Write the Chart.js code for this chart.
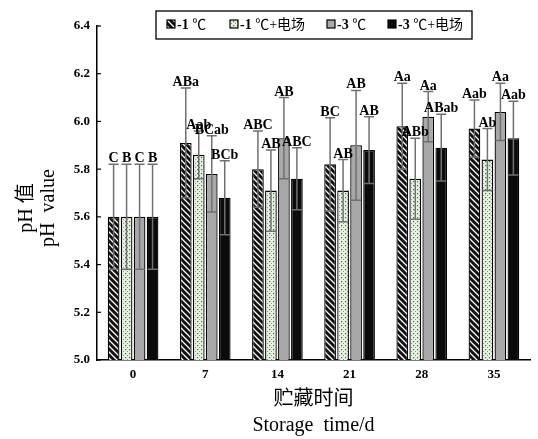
<!DOCTYPE html>
<html><head><meta charset="utf-8">
<script src="https://cdn.jsdelivr.net/npm/chart.js@4/dist/chart.umd.min.js"></script>
<style>html,body{margin:0;padding:0;background:#fff}</style>
</head><body>
<canvas id="c" width="538" height="439" style="display:block;width:538px;height:439px"></canvas>
<script>
// ---- data ----
const days = ['0', '7', '14', '21', '28', '35'];
const seriesNames = ['-1 ℃', '-1 ℃+电场', '-3 ℃', '-3 ℃+电场'];
const minus1 = [5.60, 5.91, 5.80, 5.82, 5.98, 5.97];
const minus1Err = [0.22, 0.23, 0.16, 0.195, 0.18, 0.12];
const minus1E = [5.60, 5.86, 5.71, 5.71, 5.76, 5.84];
const minus1EErr = [0.22, 0.10, 0.17, 0.13, 0.17, 0.13];
const minus3 = [5.60, 5.78, 5.93, 5.90, 6.02, 6.04];
const minus3Err = [0.22, 0.16, 0.17, 0.23, 0.105, 0.12];
const minus3E = [5.60, 5.68, 5.76, 5.88, 5.89, 5.93];
const minus3EErr = [0.22, 0.155, 0.13, 0.14, 0.14, 0.155];
const letters1 = ['C', 'ABa', 'ABC', 'BC', 'Aa', 'Aab'];
const letters2 = ['B', 'Aab', 'AB', 'AB', 'ABb', 'Ab'];
const letters3 = ['C', 'BCab', 'AB', 'AB', 'Aa', 'Aa'];
const letters4 = ['B', 'BCb', 'ABC', 'AB', 'ABab', 'Aab'];
const yTicks = [5.0, 5.2, 5.4, 5.6, 5.8, 6.0, 6.2, 6.4];
const yTitle = ['pH 值', 'pH  value'];
const xTitle = ['贮藏时间', 'Storage  time/d'];

const errs = [minus1Err, minus1EErr, minus3Err, minus3EErr];
const letters = [letters1, letters2, letters3, letters4];

const SERIF = '"Liberation Serif", "Times New Roman", "Noto Sans CJK SC", serif';

// ---- patterns ----
function hatchPattern() {
  const c = document.createElement('canvas'); c.width = 6; c.height = 6;
  const g = c.getContext('2d');
  g.fillStyle = '#ffffff'; g.fillRect(0, 0, 6, 6);
  g.strokeStyle = '#111'; g.lineWidth = 3;
  for (const k of [-6, 0, 6]) { g.beginPath(); g.moveTo(-1, -1 + k); g.lineTo(7, 7 + k); g.stroke(); }
  return g.createPattern(c, 'repeat');
}
function dotPattern() {
  const c = document.createElement('canvas'); c.width = 4; c.height = 4;
  const g = c.getContext('2d');
  g.fillStyle = '#e3f1de'; g.fillRect(0, 0, 4, 4);
  g.fillStyle = '#556655'; g.fillRect(1, 1, 1.2, 1.2);
  g.fillStyle = '#8a9a8a'; g.fillRect(3, 3, 1, 1);
  return g.createPattern(c, 'repeat');
}
const ctx0 = document.getElementById('c').getContext('2d');
const fills = [hatchPattern(), dotPattern(), '#a8a8a8', '#0b0b0b'];
const values = [minus1, minus1E, minus3, minus3E];

const datasets = values.map((v, i) => ({
  label: seriesNames[i], data: v, backgroundColor: fills[i],
  borderColor: '#000', borderWidth: 1.3,
  categoryPercentage: 0.72, barPercentage: 0.9
}));

const extras = {
  id: 'extras',
  afterDatasetsDraw(chart) {
    const ctx = chart.ctx, y = chart.scales.y;
    ctx.save();
    // error bars
    ctx.strokeStyle = '#707070'; ctx.lineWidth = 1.5;
    datasets.forEach((ds, i) => {
      chart.getDatasetMeta(i).data.forEach((bar, j) => {
        const v = ds.data[j], e = errs[i][j];
        const yt = y.getPixelForValue(v + e), yb = y.getPixelForValue(v - e);
        ctx.beginPath();
        ctx.moveTo(bar.x, yt); ctx.lineTo(bar.x, yb);
        ctx.moveTo(bar.x - 5, yt); ctx.lineTo(bar.x + 5, yt);
        ctx.moveTo(bar.x - 5, yb); ctx.lineTo(bar.x + 5, yb);
        ctx.stroke();
      });
    });
    // significance letters
    ctx.fillStyle = '#000'; ctx.font = 'bold 14px ' + SERIF;
    ctx.textAlign = 'center'; ctx.textBaseline = 'alphabetic';
    datasets.forEach((ds, i) => {
      chart.getDatasetMeta(i).data.forEach((bar, j) => {
        const yt = y.getPixelForValue(ds.data[j] + errs[i][j]);
        ctx.fillText(letters[i][j], bar.x, yt - 2);
      });
    });
    // inward y ticks
    ctx.strokeStyle = '#000'; ctx.lineWidth = 1.2;
    yTicks.forEach(t => {
      const py = y.getPixelForValue(t);
      ctx.beginPath(); ctx.moveTo(chart.chartArea.left, py); ctx.lineTo(chart.chartArea.left + 4, py); ctx.stroke();
    });
    ctx.restore();
  },
  afterDraw(chart) {
    const ctx = chart.ctx;
    ctx.save();
    // y-axis title (two rotated lines)
    ctx.fillStyle = '#000'; ctx.font = '20px ' + SERIF;
    ctx.textAlign = 'center'; ctx.textBaseline = 'middle';
    const cy = (chart.chartArea.top + chart.chartArea.bottom) / 2 + 15;
    [27, 49].forEach((x, k) => {
      ctx.save(); ctx.translate(x, cy); ctx.rotate(-Math.PI / 2);
      ctx.fillText(yTitle[k], 0, 0); ctx.restore();
    });
    // legend
    ctx.fillStyle = '#fff'; ctx.fillRect(156, 11, 316, 28);
    ctx.strokeStyle = '#000'; ctx.lineWidth = 1.3;
    ctx.strokeRect(156, 11, 316, 28);
    const xs = [167, 230, 327, 388];
    ctx.textBaseline = 'middle'; ctx.textAlign = 'left';
    seriesNames.forEach((name, i) => {
      const sx = xs[i], sy = 20;
      ctx.fillStyle = fills[i]; ctx.fillRect(sx, sy, 8, 8);
      ctx.strokeStyle = '#000'; ctx.lineWidth = 1.2; ctx.strokeRect(sx, sy, 8, 8);
      const num = name.slice(0, 2), rest = name.slice(2);
      ctx.fillStyle = '#000';
      ctx.font = 'bold 14px ' + SERIF;
      ctx.fillText(num, sx + 10, 25);
      const w = ctx.measureText(num).width;
      ctx.font = '14px ' + SERIF;
      ctx.fillText(rest, sx + 10 + w, 25);
    });
    ctx.restore();
  }
};

new Chart(ctx0, {
  type: 'bar',
  data: { labels: days, datasets },
  options: {
    responsive: false, animation: false, devicePixelRatio: 1,
    layout: { padding: { top: 26, right: 8, left: 0, bottom: 0 } },
    plugins: { legend: { display: false }, tooltip: { enabled: false } },
    scales: {
      x: {
        grid: { display: false, drawTicks: false },
        border: { display: true, color: '#000', width: 1.5 },
        ticks: { color: '#000', padding: 7, font: { family: SERIF, weight: 'bold', size: 13 } },
        title: { display: true, text: xTitle, color: '#000',
                 font: { family: SERIF, size: 20, lineHeight: 1.3 }, padding: { top: 0, bottom: 0 } },
        afterFit(s) { s.height = 79; }
      },
      y: {
        min: 5.0, max: 6.4,
        grid: { display: false, drawTicks: false },
        border: { display: true, color: '#000', width: 1.5 },
        afterBuildTicks(s) { s.ticks = yTicks.map(v => ({ value: v })); },
        ticks: { color: '#000', padding: 7, callback: v => Number(v).toFixed(1),
                 font: { family: SERIF, weight: 'bold', size: 13 } },
        title: { display: false },
        afterFit(s) { s.width = 97; }
      }
    }
  },
  plugins: [extras]
});
</script>
</body></html>
